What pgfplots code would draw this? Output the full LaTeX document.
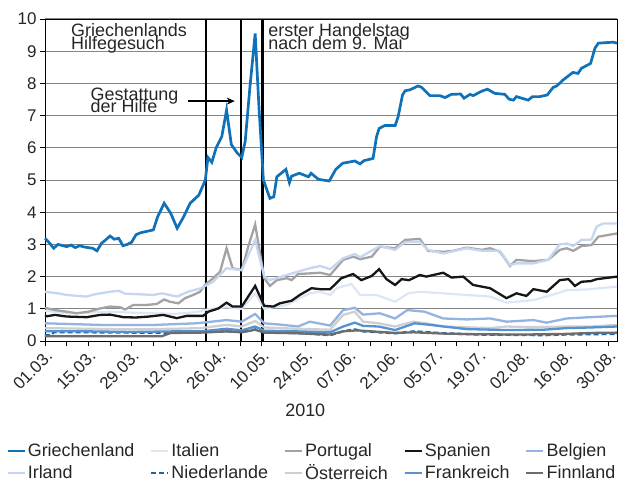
\documentclass[border=0pt]{standalone}
\usepackage{fontspec}
\setmainfont{Liberation Sans}
\usepackage{pgfplots}
\pgfplotsset{compat=1.18}
\usetikzlibrary{arrows.meta}
\definecolor{cGR}{HTML}{0F71B8}
\definecolor{cIT}{HTML}{DCE6F6}
\definecolor{cPT}{HTML}{A3A3A3}
\definecolor{cES}{HTML}{161616}
\definecolor{cBE}{HTML}{93B3E2}
\definecolor{cIE}{HTML}{C4D6F0}
\definecolor{cNL}{HTML}{1766A8}
\definecolor{cAT}{HTML}{CFCFCF}
\definecolor{cFR}{HTML}{5592D4}
\definecolor{cFI}{HTML}{6C6C6C}
\begin{document}
\begin{tikzpicture}
\begin{axis}[
  scale only axis, width=572bp, height=322bp,
  xmin=0, xmax=132, ymin=0, ymax=10,
  clip=false,
  xtick={0,10,...,130},
  xticklabels={01.03.,15.03.,29.03.,12.04.,26.04.,10.05.,24.05.,07.06.,21.06.,05.07.,19.07.,02.08.,16.08.,30.08.},
  minor xtick={5,15,...,125},
  ytick={0,1,...,10},
  tick pos=left, tick align=outside,
  major tick length=5bp, minor tick length=5bp,
  tick style={black, line width=0.8bp},
  axis line style={black, line width=0.8bp},
  ymajorgrids, grid style={color=black!48, line width=1bp},
  /pgf/number format/assume math mode=true,
  yticklabel style={font=\fontsize{17}{17}\selectfont, color=black!85},
  xticklabel style={font=\fontsize{17}{17}\selectfont, color=black!85, rotate=45, anchor=north east, inner sep=2bp},
  xlabel={2010},
  xlabel style={at={(axis description cs:0.455,-0.214)}, anchor=center, font=\fontsize{18}{18}\selectfont, color=black!85},
  legend columns=5,
  legend cell align=left,
  legend image code/.code={\draw[#1, line width=2.5bp] (0bp,0bp) -- (17bp,0bp);},
  legend style={at={(axis description cs:-0.068,-0.312)}, anchor=north west, draw=none, fill=none,
    inner sep=0pt, font=\fontsize{18}{18}\selectfont, text=black!85,
    nodes={inner sep=2bp},
    /tikz/every even column/.append style={column sep=13.5bp}, row sep=2.5bp},
]
% event lines
\addplot[black, line width=2.3bp, forget plot] coordinates {(37.1,0) (37.1,10)};
\addplot[black, line width=2.3bp, forget plot] coordinates {(45.2,0) (45.2,10)};
\addplot[black, line width=2.3bp, forget plot] coordinates {(50.2,0) (50.2,10)};

\addplot[cGR, line width=2.7bp] coordinates {
(0,3.19) (1,3.05) (2,2.88) (3,3.0) (5,2.93) (6,2.98) (7,2.9) (8,2.96) (9,2.92) (10,2.9) (11,2.88) (12,2.8) (13,3.03) (14,3.14) (15,3.26) (16,3.16) (17,3.19) (18,2.96) (19,3.0) (20,3.07) (21,3.3) (22,3.36) (23,3.39) (25,3.45) (26,3.86) (27.5,4.28) (29,3.97) (30.5,3.5) (32,3.86) (33.5,4.28) (35.5,4.53) (37,5.0) (37.6,5.7) (38.5,5.55) (39.5,6.0) (40.8,6.35) (41.9,7.17) (43,6.1) (44.3,5.85) (45.4,5.7) (46.2,6.2) (47.3,7.9) (48.5,9.55) (49.4,7.2) (50.4,5.0) (51.9,4.43) (52.8,4.48) (53.5,5.1) (55.6,5.33) (56.4,4.92) (56.9,5.12) (58.7,5.21) (60.8,5.1) (61.4,5.21) (63.1,5.02) (65.6,4.97) (67.1,5.33) (68.7,5.52) (71.5,5.59) (72.7,5.5) (73.6,5.6) (75.7,5.67) (76.5,6.34) (77.1,6.6) (78.4,6.69) (80.8,6.69) (81.5,6.97) (82.5,7.64) (83.1,7.77) (84.2,7.8) (86.1,7.92) (86.9,7.88) (88.8,7.62) (91.1,7.62) (92.3,7.56) (93.8,7.66) (95.9,7.67) (96.7,7.54) (98.1,7.66) (98.8,7.62) (100.8,7.76) (102.1,7.82) (103.8,7.69) (106.1,7.66) (107.1,7.51) (108.1,7.48) (108.8,7.59) (111.5,7.48) (112.5,7.59) (114.2,7.59) (115.9,7.64) (117.3,7.88) (118.1,7.92) (119.6,8.11) (121.8,8.34) (123,8.31) (123.8,8.47) (125.9,8.62) (126.9,9.09) (127.7,9.25) (131.1,9.28) (132,9.25)};
\addlegendentry{Griechenland}

\addplot[cIT, line width=2.2bp] coordinates {
(0,0.94) (5,0.86) (10,0.88) (15,0.91) (20,0.88) (25,0.86) (30,0.84) (35,0.9) (38,1.0) (41.9,1.05) (45.4,1.0) (48.5,1.48) (50.6,1.0) (55.8,1.12) (58.8,1.33) (61.1,1.48) (63.5,1.53) (65.8,1.43) (67.3,1.64) (70.7,1.77) (72.7,1.43) (76.5,1.43) (80.8,1.22) (83.8,1.48) (86.5,1.53) (91.9,1.48) (97.3,1.43) (102.7,1.38) (106.5,1.19) (112.7,1.27) (117,1.43) (120.4,1.58) (125,1.6) (132,1.69)};
\addlegendentry{Italien}

\addplot[cPT, line width=2.3bp] coordinates {
(0,1.03) (2.3,0.96) (5,0.91) (7.3,0.86) (10,0.91) (12.7,1.01) (15,1.07) (17.3,1.05) (18.5,0.98) (20.4,1.12) (23.5,1.12) (25.8,1.15) (27.5,1.29) (28.8,1.22) (30.8,1.17) (32.3,1.33) (34.2,1.43) (35.8,1.53) (36.9,1.74) (38.8,1.95) (40.4,2.15) (41.9,2.88) (43.3,2.26) (45.4,2.2) (46.9,2.93) (48.5,3.62) (50.6,1.95) (51.9,1.71) (53.5,1.89) (55.8,1.95) (56.9,1.89) (58.4,2.08) (61.1,2.1) (63.5,2.12) (65.8,2.05) (68.8,2.52) (71.1,2.62) (72.7,2.54) (75.4,2.62) (77.3,2.93) (80.8,2.88) (83.1,3.14) (86.5,3.17) (88.4,2.8) (91.9,2.77) (94.2,2.8) (97.3,2.9) (100.8,2.83) (102.7,2.88) (105,2.77) (106.1,2.57) (107.3,2.33) (108.8,2.52) (112.7,2.48) (116.1,2.52) (118.8,2.83) (120.4,2.88) (121.9,2.8) (123.8,2.95) (126.1,2.98) (127.7,3.24) (132,3.34)};
\addlegendentry{Portugal}

\addplot[cES, line width=2.3bp] coordinates {
(0,0.76) (2.3,0.81) (5,0.76) (9.6,0.74) (12.7,0.81) (15,0.82) (18.1,0.74) (21,0.73) (24,0.76) (27.3,0.81) (30.4,0.71) (32.7,0.78) (36.5,0.78) (37.7,0.91) (40,1.01) (41.9,1.19) (43.3,1.07) (45.4,1.07) (48.5,1.71) (50.6,1.09) (52.7,1.07) (54.2,1.17) (56.9,1.25) (58.8,1.43) (61.5,1.64) (63.5,1.61) (65.8,1.61) (68.4,1.95) (71.1,2.08) (73,1.89) (75.4,2.02) (77.1,2.23) (78.8,1.92) (80.8,1.74) (82.3,1.92) (84,1.89) (86.5,2.05) (88,2.0) (91.9,2.12) (93.8,1.97) (96.5,2.0) (98.8,1.74) (102.7,1.64) (106.5,1.33) (108.8,1.48) (111.1,1.4) (112.7,1.61) (115.8,1.53) (118.8,1.89) (120.8,1.92) (122.3,1.71) (123.8,1.84) (126,1.86) (127.3,1.92) (132,2.0)};
\addlegendentry{Spanien}

\addplot[cBE, line width=2.3bp] coordinates {
(0,0.55) (12.7,0.5) (25.4,0.5) (35,0.55) (41.9,0.65) (45.4,0.6) (48.5,0.84) (50.6,0.55) (55,0.5) (58.4,0.45) (61.1,0.6) (65.8,0.48) (68.8,0.96) (71.5,1.03) (73.4,0.82) (77.3,0.86) (80.8,0.7) (83.6,0.96) (87.6,0.91) (91.9,0.7) (97.3,0.67) (102.7,0.7) (106.5,0.6) (112.7,0.65) (115.8,0.57) (120.4,0.7) (125.8,0.74) (132,0.78)};
\addlegendentry{Belgien}

\addplot[cIE, line width=2.3bp] coordinates {
(0,1.53) (3,1.48) (5,1.43) (9.5,1.38) (11.5,1.45) (15,1.53) (17,1.56) (18.5,1.47) (22,1.45) (25,1.43) (27,1.48) (30.5,1.38) (33,1.53) (36,1.64) (38.8,1.84) (41.9,2.26) (45.4,2.2) (48.5,3.14) (50.6,2.0) (51.9,1.89) (55.8,2.05) (61.1,2.26) (63.5,2.33) (65.8,2.23) (68.8,2.57) (71.5,2.7) (72.7,2.6) (77.3,2.95) (80.8,2.83) (83.1,3.07) (86.5,3.08) (88.4,2.83) (91.9,2.72) (97.3,2.88) (100.8,2.8) (105,2.8) (107.3,2.36) (108.8,2.41) (112.7,2.41) (116.1,2.52) (118.8,3.0) (120.4,3.03) (121.9,2.95) (123.8,3.14) (126.1,3.15) (127.3,3.55) (128.8,3.65) (132,3.65)};
\addlegendentry{Irland}

\addplot[cNL, line width=2.3bp, dash pattern=on 5bp off 3bp] coordinates {
(0,0.18) (1.5,0.18) (2,0.27) (10,0.27) (20,0.26) (30,0.26) (36,0.27) (41.9,0.3) (45.4,0.28) (48.5,0.36) (50.6,0.27) (58,0.25) (65.8,0.18) (68.8,0.3) (71.5,0.36) (73.4,0.3) (80.8,0.24) (85.3,0.3) (92,0.24) (100,0.2) (108,0.19) (115,0.18) (120,0.2) (126,0.21) (132,0.22)};
\addlegendentry{Niederlande}

\addplot[cAT, line width=2.3bp] coordinates {
(0,0.4) (10,0.38) (20,0.36) (30,0.38) (36,0.4) (41.9,0.5) (45.4,0.45) (48.5,0.62) (50.6,0.42) (58,0.38) (65.8,0.35) (68.8,0.81) (71.5,0.91) (73.4,0.6) (77,0.55) (80.8,0.45) (85,0.6) (88,0.55) (91.9,0.45) (102.7,0.4) (106.5,0.45) (112,0.43) (120.4,0.45) (126,0.45) (132,0.5)};
\addlegendentry{Österreich}

\addplot[cFR, line width=2.3bp] coordinates {
(0,0.3) (10,0.3) (20,0.28) (30,0.3) (36,0.3) (41.9,0.38) (45.4,0.33) (48.5,0.45) (50.6,0.32) (58,0.3) (65.8,0.27) (68.8,0.45) (71.5,0.57) (73.4,0.47) (77,0.45) (80.8,0.34) (85.3,0.55) (89,0.5) (92,0.45) (97.3,0.37) (106.5,0.34) (115,0.35) (120.4,0.4) (126,0.42) (132,0.45)};
\addlegendentry{Frankreich}

\addplot[cFI, line width=2.3bp] coordinates {
(0,0.15) (10,0.15) (20,0.15) (27,0.15) (29,0.25) (36,0.26) (41.9,0.3) (45.4,0.27) (48.5,0.35) (50.6,0.26) (58,0.24) (65.8,0.2) (68.8,0.3) (72,0.33) (80.8,0.25) (85,0.27) (92,0.23) (100,0.21) (110,0.2) (120,0.22) (126,0.25) (132,0.26)};
\addlegendentry{Finnland}

% annotations
\node[anchor=base west, inner sep=0pt, font=\fontsize{18}{18}\selectfont, text=black!85] at (axis cs:6.0,9.47) {Griechenlands};
\node[anchor=base west, inner sep=0pt, font=\fontsize{18}{18}\selectfont, text=black!85] at (axis cs:6.0,9.06) {Hilfegesuch};
\node[anchor=base west, inner sep=0pt, font=\fontsize{18}{18}\selectfont, text=black!85] at (axis cs:51.5,9.47) {erster Handelstag};
\node[anchor=base west, inner sep=0pt, font=\fontsize{18}{18}\selectfont, text=black!85] at (axis cs:51.5,9.06) {nach dem 9. Mai};
\node[anchor=base west, inner sep=0pt, font=\fontsize{18}{18}\selectfont, text=black!85] at (axis cs:10.5,7.48) {Gestattung};
\node[anchor=base west, inner sep=0pt, font=\fontsize{18}{18}\selectfont, text=black!85] at (axis cs:10.5,7.09) {der Hilfe};
\draw[-{Stealth[length=8bp,width=7bp]}, line width=1.6bp] (axis cs:32.9,7.45) -- (axis cs:43.8,7.45);
\end{axis}
\pgfresetboundingbox
\path[use as bounding box] (-45bp,-143bp) rectangle (576bp,341bp);
\end{tikzpicture}
\end{document}
